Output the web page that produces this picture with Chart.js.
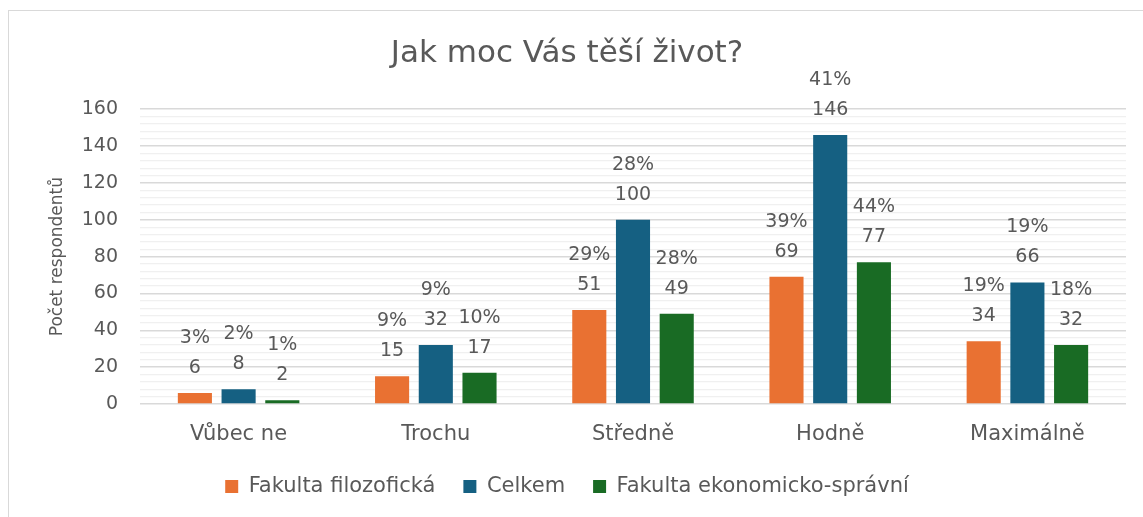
<!DOCTYPE html>
<html>
<head>
<meta charset="utf-8">
<script src="https://cdn.jsdelivr.net/npm/chart.js@4.4.1/dist/chart.umd.min.js"></script>
<style>
  html, body { margin: 0; padding: 0; background: #ffffff; }
  #wrap { position: relative; width: 1143px; height: 517px; }
</style>
</head>
<body>
<div id="wrap"><canvas id="c" width="1143" height="517"></canvas></div>
<script>
const categories = ['Vůbec ne', 'Trochu', 'Středně', 'Hodně', 'Maximálně'];
const seriesNames = ['Fakulta filozofická', 'Celkem', 'Fakulta ekonomicko-správní'];
const filozofickaCounts = [6, 15, 51, 69, 34];
const celkemCounts = [8, 32, 100, 146, 66];
const ekonomickaCounts = [2, 17, 49, 77, 32];
const filozofickaPct = ['3%', '9%', '29%', '39%', '19%'];
const celkemPct = ['2%', '9%', '28%', '41%', '19%'];
const ekonomickaPct = ['1%', '10%', '28%', '44%', '18%'];
const yTickLabels = [0, 20, 40, 60, 80, 100, 120, 140, 160];

const FONT = "'DejaVu Sans', 'Noto Sans', sans-serif";
const TEXT = '#595959';
const colors = ['#E97132', '#156082', '#196B24'];
const pctLists = [filozofickaPct, celkemPct, ekonomickaPct];

const borderPlugin = {
  id: 'outerBorder',
  beforeDraw(chart) {
    const ctx = chart.ctx;
    ctx.save();
    ctx.fillStyle = '#ffffff';
    ctx.fillRect(0, 0, chart.width, chart.height);
    ctx.strokeStyle = '#d9d9d9';
    ctx.lineWidth = 1;
    ctx.strokeRect(8.5, 10.5, chart.width + 20, chart.height + 20);
    ctx.restore();
  }
};

const labelPlugin = {
  id: 'twoLineLabels',
  afterDatasetsDraw(chart) {
    const ctx = chart.ctx;
    ctx.save();
    ctx.font = '19px ' + FONT;
    ctx.fillStyle = TEXT;
    ctx.textAlign = 'center';
    ctx.textBaseline = 'middle';
    chart.data.datasets.forEach((ds, di) => {
      const meta = chart.getDatasetMeta(di);
      meta.data.forEach((bar, i) => {
        const x = bar.x;
        const top = bar.y;
        ctx.fillText(String(ds.data[i]), x, top - 25);
        ctx.fillText(pctLists[di][i], x, top - 55);
      });
    });
    ctx.restore();
  }
};

new Chart(document.getElementById('c'), {
  type: 'bar',
  data: {
    labels: categories,
    datasets: [
      { label: seriesNames[0], data: filozofickaCounts, backgroundColor: colors[0] },
      { label: seriesNames[1], data: celkemCounts, backgroundColor: colors[1] },
      { label: seriesNames[2], data: ekonomickaCounts, backgroundColor: colors[2] }
    ]
  },
  options: {
    responsive: false,
    animation: false,
    devicePixelRatio: 1,
    categoryPercentage: 0.665,
    barPercentage: 0.78,
    layout: { padding: { top: 18, left: 8, right: 17, bottom: 10 } },
    plugins: {
      title: {
        display: true,
        text: 'Jak moc Vás těší život?',
        color: TEXT,
        font: { family: FONT, size: 31, weight: 'normal' },
        padding: { top: 17, bottom: 37 }
      },
      legend: {
        position: 'bottom',
        labels: {
          color: TEXT,
          font: { family: FONT, size: 21 },
          boxWidth: 13,
          boxHeight: 13,
          padding: 28
        }
      },
      tooltip: { enabled: false }
    },
    scales: {
      x: {
        afterFit(scale) { scale.height = 44; },
        grid: { display: false, drawTicks: false },
        border: { display: false },
        ticks: { color: TEXT, font: { family: FONT, size: 21 }, padding: 18 }
      },
      y: {
        min: 0,
        max: 160,
        afterFit(scale) { scale.width = 132; },
        border: { display: false },
        grid: {
          drawTicks: false,
          color: (c) => (yTickLabels.includes(c.tick.value) ? '#d9d9d9' : '#f0f0f0'),
          lineWidth: (c) => (yTickLabels.includes(c.tick.value) ? 1.5 : 1.2)
        },
        ticks: {
          stepSize: 4,
          maxTicksLimit: 100,
          autoSkip: false,
          color: TEXT,
          font: { family: FONT, size: 19 },
          padding: 22,
          callback: (v) => (yTickLabels.includes(v) ? String(v) : '')
        },
        title: {
          display: true,
          text: 'Počet respondentů',
          color: TEXT,
          font: { family: FONT, size: 17 },
          padding: { top: 39, bottom: 0 }
        }
      }
    }
  },
  plugins: [borderPlugin, labelPlugin]
});
</script>
</body>
</html>
